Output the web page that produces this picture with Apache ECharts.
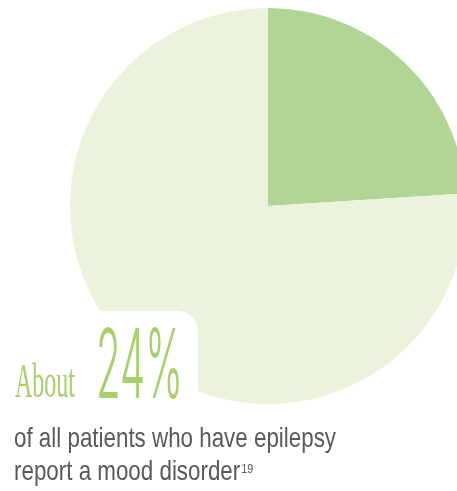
<!DOCTYPE html>
<html>
<head>
<meta charset="utf-8">
<script src="https://cdn.jsdelivr.net/npm/echarts@6/dist/echarts.min.js"></script>
<style>
html,body{margin:0;padding:0;background:#fff;}
#chart{width:457px;height:491px;}
</style>
</head>
<body>
<div id="chart"></div>
<script>
// ---- data ----
const categories = ['Report a mood disorder', 'No mood disorder'];
const values = [24, 76];
const headlinePrefix = 'About';
const headlineValue = '24%';
const captionLines = ['of all patients who have epilepsy', 'report a mood disorder'];
const footnote = '19';

// ---- helpers ----
const ctx = document.createElement('canvas').getContext('2d');
function textW(text, font) { ctx.font = font; return ctx.measureText(text).width; }

const chart = echarts.init(document.getElementById('chart'), null, {renderer: 'canvas'});

const sansFam = '"Liberation Sans", Arial, sans-serif';
const thinFam = 'Inter, "Liberation Sans", sans-serif';
const serifFam = '"Liberation Serif", "Times New Roman", serif';
const green = '#a7cf6c';
const gray = '#58595b';

const aboutSize = 48;
const aboutScale = 60 / textW(headlinePrefix, aboutSize + 'px ' + serifFam);
const numSize = 96;
const numScale = 87 / textW(headlineValue, '300 ' + numSize + 'px ' + thinFam);
const capSize = 28;
const capScale = 322 / textW(captionLines[0], capSize + 'px ' + sansFam);
const line2W = textW(captionLines[1], capSize + 'px ' + sansFam) * capScale;
const fnSize = 12;

function baselineText(text, x, baseline, size, family, color, scale, weight) {
  return {
    type: 'text', x: x, y: baseline - 0.31 * size, scaleX: scale, scaleY: 1, z: 10, silent: true,
    style: {text: text, x: 0, y: 0, fill: color, font: (weight || 'normal') + ' ' + size + 'px ' + family,
            align: 'left', verticalAlign: 'middle'}
  };
}

const option = {
  animation: false,
  backgroundColor: '#ffffff',
  series: [{
    type: 'pie',
    center: [268, 206],
    radius: 198,
    startAngle: 90,
    clockwise: true,
    silent: true,
    label: {show: false},
    labelLine: {show: false},
    emphasis: {disabled: true},
    itemStyle: {borderWidth: 0},
    data: categories.map((c, i) => ({
      name: c, value: values[i],
      itemStyle: {color: i === 0 ? '#b1d594' : '#ecf3dd'}
    }))
  }],
  graphic: [
    {type: 'rect', z: 5, silent: true, shape: {x: -40, y: 311, width: 238, height: 220, r: 20}, style: {fill: '#ffffff'}},
    baselineText(headlinePrefix, 15, 399, aboutSize, serifFam, green, aboutScale),
    baselineText(headlineValue, 96, 399, numSize, thinFam, green, numScale, '300'),
    baselineText(captionLines[0], 14, 448, capSize, sansFam, gray, capScale),
    baselineText(captionLines[1], 14, 481, capSize, sansFam, gray, capScale),
    baselineText(footnote, 14 + line2W + 1, 473, fnSize, sansFam, gray, 0.9)
  ]
};
chart.setOption(option);
</script>
</body>
</html>
